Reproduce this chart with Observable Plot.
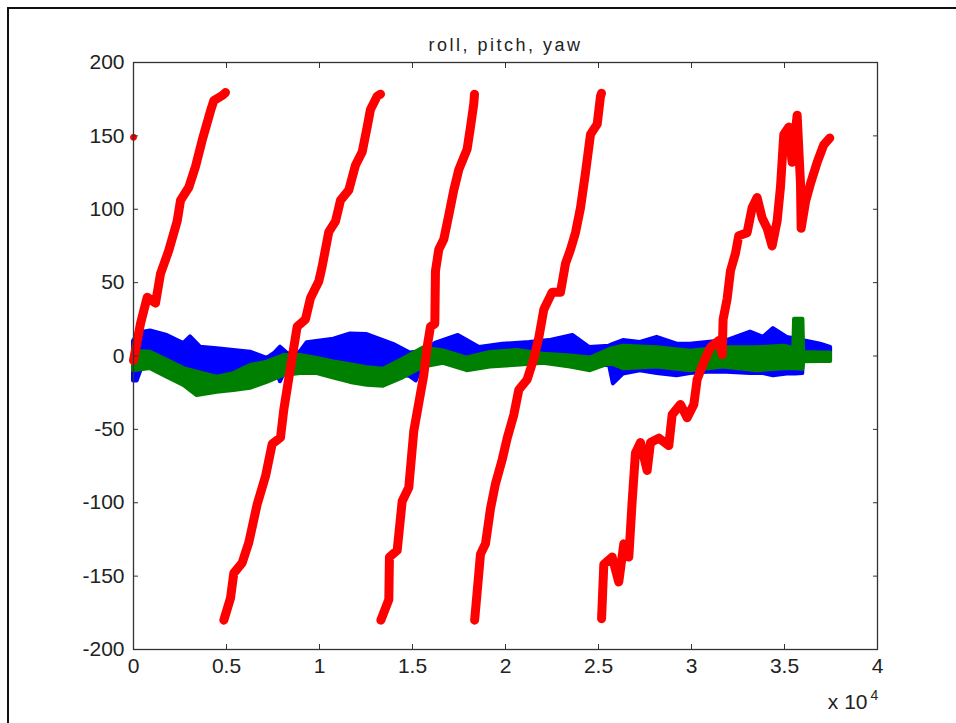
<!DOCTYPE html>
<html>
<head>
<meta charset="utf-8">
<script src="https://cdn.jsdelivr.net/npm/d3@7"></script>
<script src="https://cdn.jsdelivr.net/npm/@observablehq/plot@0.6"></script>
<style>
html,body{margin:0;padding:0;background:#fff;}
#wrap{position:relative;width:956px;height:723px;overflow:hidden;background:#fff;}
#chart{position:absolute;left:0;top:0;}
#border{position:absolute;left:7px;top:7px;width:2000px;height:2000px;border-left:2.5px solid #111;border-top:2.5px solid #111;pointer-events:none;}
</style>
</head>
<body>
<div id="wrap"><div id="chart"></div><div id="border"></div></div>
<script>
// ---- tick values / labels ----
const xTicks = [0, 5000, 10000, 15000, 20000, 25000, 30000, 35000, 40000];
const xTickLabels = ["0", "0.5", "1", "1.5", "2", "2.5", "3", "3.5", "4"];
const yTicks = [-200, -150, -100, -50, 0, 50, 100, 150, 200];
const titleText = "roll, pitch, yaw";
const xExpText = "x 10";
const xExpPower = "4";

// ---- roll (blue): band, upper / lower envelope ----
const rollT  = [0, 200, 450, 914, 1810, 2706, 3065, 3602, 4498, 5394, 6290, 7187, 7600, 7903, 8250, 8620, 8978, 9337, 10770, 11667, 12563, 13980, 14876, 15200, 15560, 16298, 17463, 18600, 19855, 21290, 22365, 23620, 24513, 25588, 25800, 26338, 27252, 28150, 29225, 29940, 30840, 31915, 33171, 33870, 34408, 35145, 35600, 35980, 36030, 36940, 37480];
const rollHi = [10, 14, 16, 17, 14, 8.5, 13, 6, 5, 3.7, 2.6, -1.7, 2, 6, 2, 0, 3, 9, 11.5, 15, 14.6, 8, 2, 2.5, 3.2, 9, 14, 5.8, 8, 9.2, 10.5, 14, 5.8, 6.7, 8, 10.5, 9.2, 12.7, 8, 8, 9.2, 10.5, 16.3, 12.7, 18.7, 12.7, 11.6, 10.5, 10.5, 8, 5.8];
const rollLo = [-17, -17, -8, -6, -10, -14, -15, -16, -18, -16, -12, -8, -8, -17.5, -8, -6, -6, -8, -10, -12, -14, -12, -14, -17, -5, -3, -6, -6, -4, -4, -4, -6, -8, -6, -19, -12.3, -10, -12, -13.5, -12, -11, -11, -12, -12, -13.5, -12.3, -12.3, -12, 2.4, 2.4, 2.4];

// ---- pitch (green) ----
const pitchT  = [0, 914, 1810, 2706, 3423, 4498, 5394, 6290, 7187, 8082, 8978, 9875, 10770, 11667, 12563, 13440, 14515, 15590, 16666, 17940, 19193, 20630, 22040, 23494, 24570, 25645, 26343, 28155, 29945, 31720, 33530, 35000, 35500, 35540, 35990, 36030, 36940, 37480];
const pitchHi = [3, 2.6, -3, -8.6, -11, -14.4, -12, -6.5, -4.2, 0.3, 0.3, -1.7, -4, -6, -8, -9, -2, 5.5, 3.5, -1.4, 2.4, 3.7, 1.2, 0, -1.4, 4.6, 6.7, 5.6, 3.2, 5.6, 5.6, 6.7, 5, 25, 25, 2.4, 2, 2];
const pitchLo = [-10, -8.6, -14.4, -20, -27, -24.7, -23.5, -22, -18, -13.3, -12, -12, -15, -18, -20, -20.6, -14.7, -7.5, -5, -10, -7.5, -6.3, -5, -7.5, -10, -5, -8.7, -7.5, -10, -7.5, -10, -8.7, -8.7, -8.7, -9, -4, -3.7, -3.7];

// ---- yaw (red): wraps at ±180, null = break ----
const yawT = [
  0, 376, 736, 1183, 1452, 1900, 2350, 2527, 2975, 3333, 3692, 4140, 4318, 4767, 4946, 4950,
  4857, 5215, 5394, 5842, 6200, 6650, 7097, 7455, 7903, 8082, 8351, 8620, 8799, 9247, 9516, 9963, 10142, 10500, 10858, 11127, 11575, 11934, 12293, 12562, 12741, 13100, 13280, 13290,
  13300, 13727, 13760, 14176, 14445, 14800, 15070, 15338, 15607, 15786, 15966, 16200, 16235, 16413, 16682, 16951, 17220, 17489, 17937, 18117, 18296, 18333, 18335,
  18340, 18475, 18655, 18924, 19193, 19462, 19822, 20090, 20448, 20716, 21166, 21524, 21792, 22060, 22510, 22957, 23226, 23495, 23763, 24032, 24301, 24570, 24930, 25107, 25160, 25162,
  25165, 25286, 25735, 26090, 26360, 26630, 26810, 26988, 27257, 27615, 27795, 28243, 28780, 28960, 29408, 29766, 30125, 30304, 30662, 31021, 31468, 31648, 31700, 31916, 32095, 32364, 32542, 32990, 33259, 33528, 33797, 34066, 34335, 34604, 34783, 34962, 35230, 35410, 35680, 35860, 35895, 36128, 36397, 36755, 37113, 37436
];
const yawV = [
  -3, 22, 40, 36, 56, 72, 92, 106, 115, 129, 147, 167, 174, 177.5, 179.5, null,
  -180, -165, -148, -141, -127, -101, -82, -60, -55.5, -36.5, -15, 6, 20, 25, 39.5, 51, 61, 84.6, 91.7, 106, 113, 130, 139, 156, 168, 177, 178.4, null,
  -180, -166, -137, -132.5, -99, -89.6, -51, -32, -13, 6, 20, 22, 58, 72.6, 79.5, 96, 113, 127, 141, 156, 172, 178.4, null,
  -180, -161, -135, -128, -104, -87, -70.6, -56, -40, -23, -16, -1.7, 12.6, 31.7, 43.5, 43.5, 63, 72.6, 84, 101, 125, 151, 158, 177, 179, null,
  -179, -142, -137, -154, -128, -137, -99, -66, -59, -78, -59, -56, -61, -40, -33, -42, -33, -16, -4, 6, 10.5, 1, 25, 39, 58, 70, 82, 84, 101, 108, 94, 87, 75, 92, 115, 151, 156, 132, 164, 117.5, 87, 105, 117.5, 132, 144, 148.5
];
const yawDotT = [0];
const yawDotV = [149];

// ---- tables for the library ----
const roll = rollT.map((t, i) => ({t, lo: rollLo[i], hi: rollHi[i]}));
const pitch = pitchT.map((t, i) => ({t, lo: pitchLo[i], hi: pitchHi[i]}));
const yaw = yawT.map((t, i) => ({t, v: yawV[i]}));
const yawDot = yawDotT.map((t, i) => ({t, v: yawDotV[i]}));

const xFmt = d => xTickLabels[xTicks.indexOf(d)];
const blank = () => "";

const chart = Plot.plot({
  width: 956,
  height: 723,
  marginLeft: 133,
  marginRight: 79,
  marginTop: 62,
  marginBottom: 74,
  style: {fontFamily: "'Liberation Sans', Arial, sans-serif", fontSize: "21px", color: "#222", background: "transparent", overflow: "visible"},
  x: {domain: [0, 40000]},
  y: {domain: [-200, 200]},
  marks: [
    Plot.areaY(roll, {x: "t", y1: "lo", y2: "hi", fill: "#0000ff", stroke: "#0000ff", strokeWidth: 4, strokeLinejoin: "round"}),
    Plot.areaY(pitch, {x: "t", y1: "lo", y2: "hi", fill: "#008000", stroke: "#008000", strokeWidth: 4, strokeLinejoin: "round"}),
    Plot.line(yaw, {x: "t", y: "v", stroke: "#ff0000", strokeWidth: 9, strokeLinejoin: "round", strokeLinecap: "round"}),
    Plot.dot(yawDot, {x: "t", y: "v", r: 3, fill: "#ff0000", stroke: "#ff0000", strokeWidth: 1}),
    Plot.frame({stroke: "#333", strokeWidth: 1.3}),
    Plot.axisX(xTicks, {anchor: "bottom", tickSize: -5, tickPadding: 14, tickFormat: xFmt, label: null, stroke: "#333"}),
    Plot.axisX(xTicks, {anchor: "top", tickSize: -5, tickFormat: blank, label: null, stroke: "#333"}),
    Plot.axisY(yTicks, {anchor: "left", tickSize: -5, tickPadding: 14, tickFormat: d => String(d), label: null, stroke: "#333"}),
    Plot.axisY(yTicks, {anchor: "right", tickSize: -5, tickFormat: blank, label: null, stroke: "#333"}),
    Plot.text([titleText], {text: d => d, frameAnchor: "top", dy: -24, fontSize: 18, fill: "#222"}),
    Plot.text([xExpText], {text: d => d, frameAnchor: "bottom-right", textAnchor: "end", dx: -10, dy: 59, fontSize: 21, fill: "#222"}),
    Plot.text([xExpPower], {text: d => d, frameAnchor: "bottom-right", textAnchor: "middle", dx: -3, dy: 50, fontSize: 14, fill: "#222"})
  ]
});
// widen the title's letter spacing as in the reference
chart.querySelectorAll("text").forEach(t => {
  if (t.textContent === titleText) t.setAttribute("letter-spacing", "2.5");
});
document.getElementById("chart").appendChild(chart);
</script>
</body>
</html>
